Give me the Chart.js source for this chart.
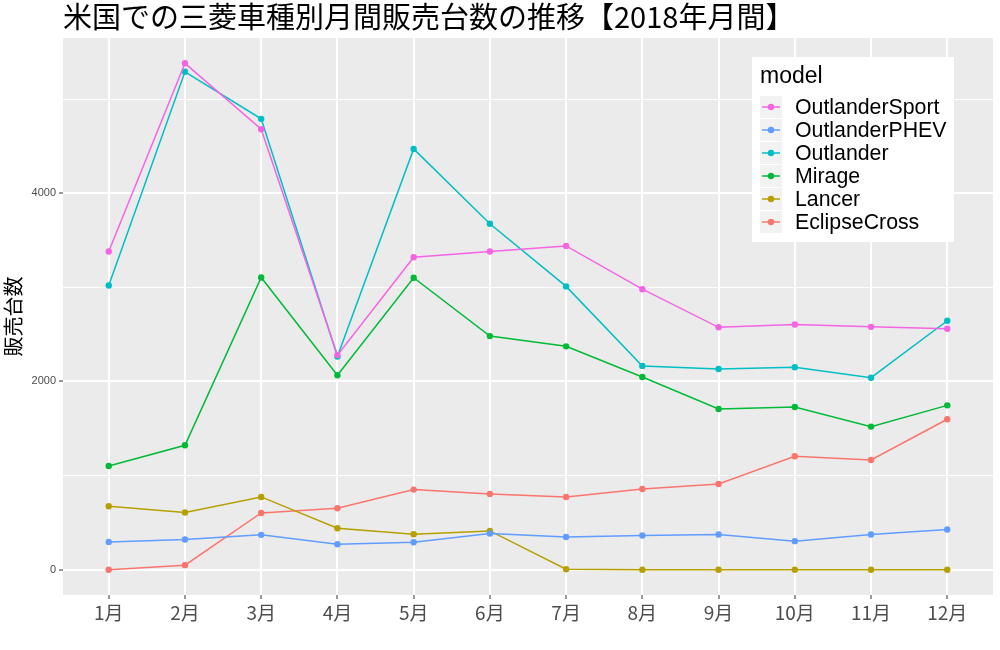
<!DOCTYPE html>
<html>
<head>
<meta charset="utf-8">
<script src="https://cdn.jsdelivr.net/npm/chart.js@4/dist/chart.umd.min.js"></script>
<style>
  html, body { margin: 0; padding: 0; background: #fff; }
  #wrap { width: 1000px; height: 650px; }
</style>
</head>
<body>
<div id="wrap"><canvas id="chart" width="1000" height="650"></canvas></div>
<script>
// 月ラベル
const months = ['1月', '2月', '3月', '4月', '5月', '6月', '7月', '8月', '9月', '10月', '11月', '12月'];
// y軸の目盛り（2000ごとにラベル、1000ごとに補助線）
const yTicks = [0, 1000, 2000, 3000, 4000, 5000];

// 車種別の月間販売台数
const outlanderSport = [3380, 5380, 4680, 2280, 3320, 3380, 3440, 2980, 2575, 2605, 2580, 2560];
const outlanderPHEV  = [295, 320, 370, 270, 292, 385, 348, 363, 374, 303, 374, 427];
const outlander      = [3020, 5290, 4790, 2265, 4470, 3675, 3010, 2165, 2132, 2150, 2040, 2645];
const mirage         = [1102, 1322, 3105, 2065, 3102, 2482, 2373, 2047, 1707, 1728, 1520, 1746];
const lancer         = [674, 607, 773, 440, 377, 412, 5, 0, 0, 0, 0, 0];
const eclipseCross   = [0, 48, 603, 653, 851, 805, 773, 858, 911, 1205, 1166, 1598];

const seriesNames = ['OutlanderSport', 'OutlanderPHEV', 'Outlander', 'Mirage', 'Lancer', 'EclipseCross'];
const seriesValues = [outlanderSport, outlanderPHEV, outlander, mirage, lancer, eclipseCross];
const seriesColors = ['#F564E3', '#619CFF', '#00BFC4', '#00BA38', '#B79F00', '#F8766D'];

const titleText = '米国での三菱車種別月間販売台数の推移【2018年月間】';
const cjkFont = '"Noto Sans CJK JP", "Noto Sans", sans-serif';

const datasets = seriesNames.map((name, i) => ({
  label: name,
  data: seriesValues[i].map((v, j) => ({ x: j + 1, y: v })),
  borderColor: seriesColors[i],
  backgroundColor: seriesColors[i],
  pointBackgroundColor: seriesColors[i],
  borderWidth: 1.5,
  pointRadius: 3.2,
  pointBorderWidth: 0,
  pointHoverRadius: 3.2,
  tension: 0
}));

// パネル背景
const panelBg = {
  id: 'panelBg',
  beforeDraw(chart) {
    const { ctx, chartArea: a } = chart;
    ctx.save();
    ctx.fillStyle = '#EBEBEB';
    ctx.fillRect(a.left, a.top, a.right - a.left, a.bottom - a.top);
    ctx.restore();
  }
};

// タイトルと凡例（ggplot風）
const decorations = {
  id: 'decorations',
  afterDraw(chart) {
    const ctx = chart.ctx;
    ctx.save();
    ctx.fillStyle = '#000';
    ctx.font = '29px ' + cjkFont;
    ctx.textBaseline = 'alphabetic';
    ctx.textAlign = 'left';
    ctx.fillText(titleText, 63, 28);

    // 凡例ボックス
    const bx = 752, by = 57, bw = 202, bh = 185;
    ctx.fillStyle = '#fff';
    ctx.fillRect(bx, by, bw, bh);
    ctx.fillStyle = '#000';
    ctx.font = '23px "Liberation Sans", Arial, sans-serif';
    ctx.fillText('model', 760, 83);

    ctx.font = '21.3px "Liberation Sans", Arial, sans-serif';
    chart.data.datasets.forEach((ds, i) => {
      const cy = 107 + i * 23;
      ctx.fillStyle = '#F2F2F2';
      ctx.fillRect(760, cy - 11, 22, 22);
      ctx.strokeStyle = ds.borderColor;
      ctx.lineWidth = 1.5;
      ctx.beginPath();
      ctx.moveTo(762, cy);
      ctx.lineTo(780, cy);
      ctx.stroke();
      ctx.fillStyle = ds.borderColor;
      ctx.beginPath();
      ctx.arc(771, cy, 3.2, 0, Math.PI * 2);
      ctx.fill();
      ctx.fillStyle = '#000';
      ctx.textBaseline = 'middle';
      ctx.fillText(ds.label, 795, cy + 1);
    });
    ctx.restore();
  }
};

const isMajor = v => Math.abs(v % 2000) < 1e-6;

new Chart(document.getElementById('chart').getContext('2d'), {
  type: 'line',
  data: { datasets },
  plugins: [panelBg, decorations],
  options: {
    responsive: false,
    animation: false,
    devicePixelRatio: 1,
    layout: { padding: { top: 38, right: 7, left: 0, bottom: 0 } },
    plugins: {
      legend: { display: false },
      tooltip: { enabled: false },
      title: { display: false }
    },
    scales: {
      x: {
        type: 'linear',
        min: 0.4,
        max: 12.6,
        afterBuildTicks: s => { s.ticks = months.map((m, i) => ({ value: i + 1 })); },
        afterFit: s => { s.height = 55; },
        border: { display: false },
        grid: {
          color: '#FFFFFF',
          lineWidth: 2,
          tickColor: '#333333',
          tickWidth: 1,
          tickLength: 4
        },
        ticks: {
          autoSkip: false,
          maxRotation: 0,
          padding: 2,
          color: '#4D4D4D',
          font: { family: cjkFont, size: 19 },
          callback: v => months[v - 1]
        }
      },
      y: {
        type: 'linear',
        min: -269,
        max: 5649,
        afterBuildTicks: s => { s.ticks = yTicks.map(v => ({ value: v })); },
        afterFit: s => { s.width = 63; },
        border: { display: false },
        title: {
          display: true,
          text: '販売台数',
          color: '#000',
          font: { family: cjkFont, size: 20, lineHeight: 1.2 },
          padding: { top: 1, bottom: 0 }
        },
        grid: {
          color: '#FFFFFF',
          lineWidth: c => (c.tick && isMajor(c.tick.value)) ? 2 : 1,
          tickColor: c => (c.tick && isMajor(c.tick.value)) ? '#333333' : 'rgba(0,0,0,0)',
          tickWidth: 1,
          tickLength: 4
        },
        ticks: {
          autoSkip: false,
          padding: 3,
          color: '#4D4D4D',
          font: { family: '"Liberation Sans", Arial, sans-serif', size: 11 },
          callback: v => isMajor(v) ? String(v) : ''
        }
      }
    }
  }
});
</script>
</body>
</html>
